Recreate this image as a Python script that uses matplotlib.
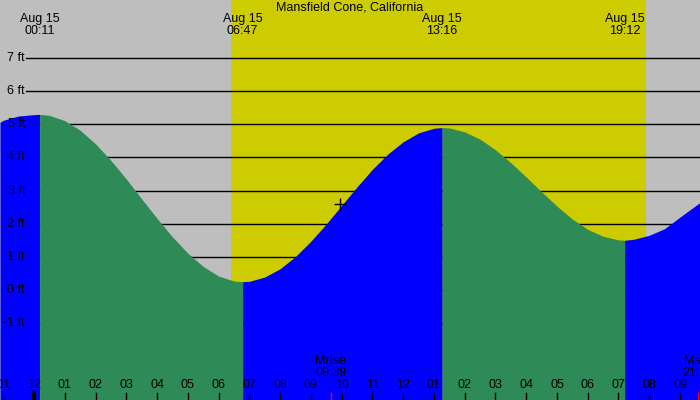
import matplotlib
matplotlib.use('Agg')
import matplotlib.pyplot as plt
import matplotlib.transforms as mtransforms
import numpy as np

plt.rcParams['font.family'] = ['Liberation Sans', 'DejaVu Sans']

# tide heights (ft), hours after midnight Aug 15
hours = [-1.105, -1.0, -0.5, 0.0, 0.183, 0.5, 1.0, 1.5, 2.0, 2.5, 3.0, 3.5, 4.0, 4.5,
         5.0, 5.5, 6.0, 6.5, 6.783, 7.0, 7.5, 8.0, 8.5, 9.0, 9.5, 10.0, 10.5, 11.0,
         11.5, 12.0, 12.5, 13.0, 13.267, 13.5, 14.0, 14.5, 15.0, 15.5, 16.0, 16.5,
         17.0, 17.5, 18.0, 18.5, 19.0, 19.2, 19.5, 20.0, 20.5, 21.0, 21.65]
heights = [5.06, 5.12, 5.25, 5.29, 5.30, 5.27, 5.11, 4.82, 4.41, 3.91, 3.35, 2.75, 2.16, 1.60,
           1.11, 0.71, 0.42, 0.27, 0.25, 0.26, 0.39, 0.64, 1.01, 1.47, 1.99, 2.55, 3.11, 3.64,
           4.10, 4.47, 4.74, 4.88, 4.90, 4.89, 4.77, 4.55, 4.23, 3.84, 3.41, 2.96,
           2.53, 2.14, 1.83, 1.62, 1.51, 1.50, 1.53, 1.65, 1.85, 2.20, 2.64]

# high / low tides
ext_hours = [0.183, 6.783, 13.267, 19.2]
ext_labels = ['00:11', '06:47', '13:16', '19:12']

sunrise = 6.4
sunset = 19.9
moon_events = [(9.65, 'Mrise', '09:39'), (21.58, 'Mset', '21:35')]
ft_levels = [7, 6, 5, 4, 3, 2, 1, 0, -1]
now_point = (9.95, 2.6)

xmin, xmax = -1.105, 21.65
ymin, ymax = -3.32, 8.75

fig = plt.figure(figsize=(7, 4), dpi=100)
ax = fig.add_axes([0, 0, 1, 1])
ax.set_xlim(xmin, xmax)
ax.set_ylim(ymin, ymax)
ax.axis('off')
fig.patch.set_facecolor('#BEBEBE')

ax.axvspan(sunrise, sunset, color='#CCCC00', zorder=0, lw=0)

trans = mtransforms.blended_transform_factory(ax.transAxes, ax.transData)
for lv in ft_levels:
    ax.plot([26 / 700, 1], [lv, lv], color='black', lw=1, transform=trans, zorder=1)
    ax.text(25 / 700, lv, '%d ft' % lv, transform=trans, ha='right', va='center',
            fontsize=9, zorder=4)

# fill under the curve: blue rising, green falling
t = np.array(hours)
h = np.array(heights)
bounds = [xmin] + ext_hours + [xmax]
for i in range(len(bounds) - 1):
    m = (t >= bounds[i] - 1e-9) & (t <= bounds[i + 1] + 1e-9)
    rising = h[m][-1] > h[m][0]
    ax.fill_between(t[m], h[m], ymin, color='#0000FF' if rising else '#2E8B57',
                    lw=0, zorder=2)

ax.plot([now_point[0]], [now_point[1]], marker='+', color='black', ms=8, mew=1, zorder=5)

ax.text(0.5, 1 - 8 / 400, 'Mansfield Cone, California', transform=ax.transAxes,
        ha='center', va='center', fontsize=9)

ttrans = mtransforms.blended_transform_factory(ax.transData, ax.transAxes)
for eh, el in zip(ext_hours, ext_labels):
    ax.text(eh, 1 - 19 / 400, 'Aug 15', transform=ttrans, ha='center', va='center', fontsize=9)
    ax.text(eh, 1 - 31 / 400, el, transform=ttrans, ha='center', va='center', fontsize=9)

for hr in range(-1, 22):
    lab = '%02d' % ((hr - 1) % 12 + 1)
    ax.text(hr, 14.5 / 400, lab, transform=ttrans, ha='center', va='center', fontsize=9, zorder=4)
    ax.plot([hr, hr], [0, 7 / 400], color='black', lw=3 if hr == 0 else 1,
            transform=ttrans, zorder=4)

for mh, name, tm in moon_events:
    ax.plot([mh, mh], [0, 7 / 400], color='red', lw=1, transform=ttrans, zorder=4)
    ax.text(mh, 1 - 361 / 400, name, transform=ttrans, ha='center', va='center', fontsize=9, zorder=4)
    ax.text(mh, 1 - 373 / 400, tm, transform=ttrans, ha='center', va='center', fontsize=9, zorder=4)

fig.savefig('out.png', dpi=100, facecolor=fig.get_facecolor())
